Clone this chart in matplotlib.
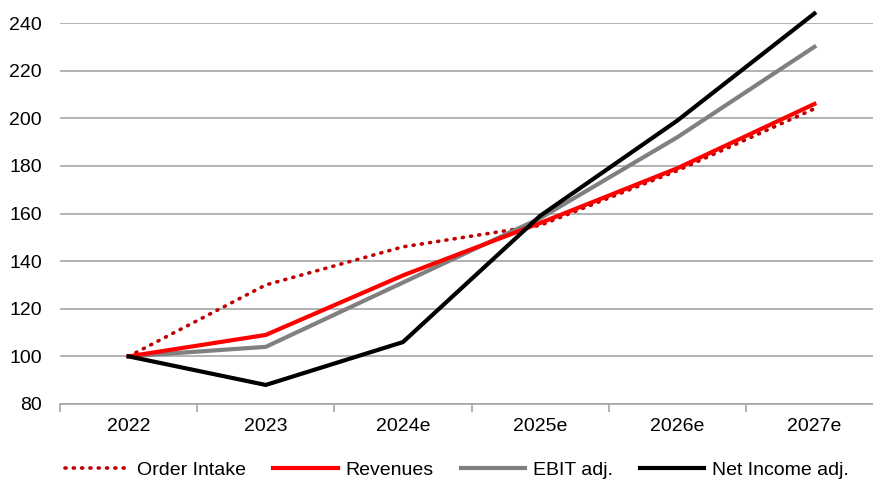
import matplotlib.pyplot as plt
import numpy as np

plt.rcParams['font.family'] = ['Liberation Sans', 'DejaVu Sans']

years = ['2022', '2023', '2024e', '2025e', '2026e', '2027e']
order_intake = [100, 130, 146, 155, 178, 204]
revenues = [100, 109, 134, 156, 179, 206]
ebit_adj = [100, 104, 131, 158, 192, 230]
net_income_adj = [100, 88, 106, 159, 199, 244]

fig = plt.figure(figsize=(8.73, 4.84), dpi=100)
# axes runs a little past the right edge, like the original export
ax = fig.add_axes([60 / 873, 80 / 484, 823 / 873, 381 / 484])

x = np.arange(len(years))
ax.plot(x, order_intake, color='#C00000', lw=2.6, linestyle=(0, (0.3, 2.0)),
        dash_capstyle='round', label='Order Intake', zorder=3, clip_on=False)
ax.plot(x, revenues, color='#FF0000', lw=3, label='Revenues', zorder=4, clip_on=False)
ax.plot(x, ebit_adj, color='#808080', lw=3, label='EBIT adj.', zorder=3, clip_on=False)
ax.plot(x, net_income_adj, color='#000000', lw=3, label='Net Income adj.', zorder=5,
        clip_on=False)

ax.set_xlim(-0.5, len(years) - 0.5)
ax.set_ylim(80, 240)
ax.set_yticks(range(80, 241, 20))
ax.yaxis.grid(True, color='#A6A6A6', lw=1.2)
ax.set_axisbelow(True)

ax.set_xticks(x)
ax.set_xticklabels(years)
ax.set_xticks(np.arange(-0.5, len(years), 1), minor=True)
ax.tick_params(axis='x', which='major', length=0, pad=10, labelsize=14)
ax.tick_params(axis='x', which='minor', length=6, color='#A6A6A6', width=1.2)
ax.tick_params(axis='y', length=0, pad=13, labelsize=14)

for s in ['top', 'right', 'left']:
    ax.spines[s].set_visible(False)
ax.spines['bottom'].set_color('#A6A6A6')
ax.spines['bottom'].set_linewidth(1.2)

fig.legend(loc='center', bbox_to_anchor=(457 / 873, 14 / 484), ncol=4, frameon=False,
           fontsize=14, handlelength=3.3, handletextpad=0.4, columnspacing=1.4,
           borderaxespad=0)

fig.savefig('out.png', dpi=100)
